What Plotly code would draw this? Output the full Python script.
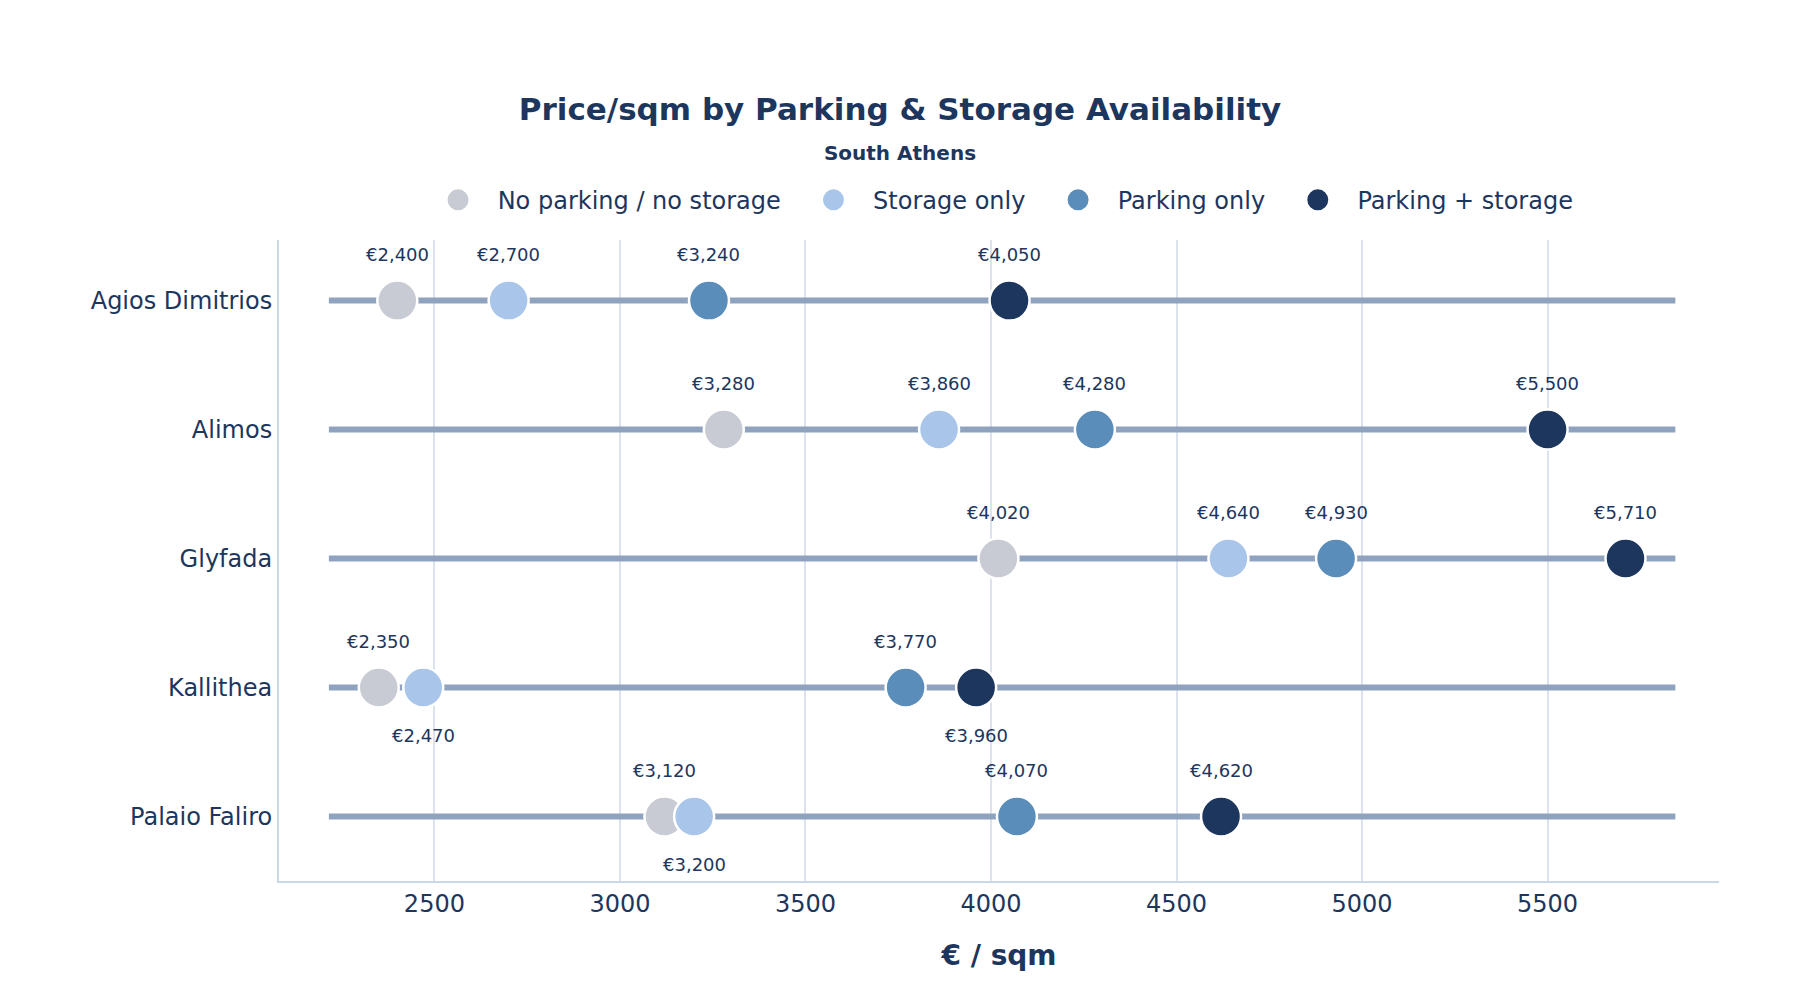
import plotly.graph_objects as go

# data
districts = ["Agios Dimitrios", "Alimos", "Glyfada", "Kallithea", "Palaio Faliro"]
groups = ["No parking / no storage", "Storage only", "Parking only", "Parking + storage"]
no_parking_no_storage = [2400, 3280, 4020, 2350, 3120]
storage_only = [2700, 3860, 4640, 2470, 3200]
parking_only = [3240, 4280, 4930, 3770, 4070]
parking_and_storage = [4050, 5500, 5710, 3960, 4620]

series = [no_parking_no_storage, storage_only, parking_only, parking_and_storage]
colors = ["#C8CBD3", "#A9C6EA", "#5A8DB9", "#1D365E"]
NAVY = "#1D365E"
FONT = "DejaVu Sans"
LEAD = "\u2002\u00a0"
TRAIL = "\u00a0" * 3 + "\u2009"

all_vals = [v for s in series for v in s]
vmin, vmax = min(all_vals), max(all_vals)
span = vmax - vmin
line_lo, line_hi = vmin - 0.04 * span, vmax + 0.04 * span
axis_lo, axis_hi = vmin - 0.08 * span, vmax + 0.075 * span

fig = go.Figure()

# one grey track per district
for d in districts:
    fig.add_trace(go.Scatter(
        x=[line_lo, line_hi],
        y=[d, d],
        mode="lines",
        line=dict(color="#8FA3BF", width=6),
        showlegend=False,
        hoverinfo="skip",
    ))

for name, vals, col in zip(groups, series, colors):
    fig.add_trace(go.Scatter(
        x=vals,
        y=districts,
        mode="markers",
        name=name,
        legendgroup=name,
        showlegend=False,
        marker=dict(size=40, color=col, line=dict(color="white", width=2.5)),
        hovertemplate="%{y}<br>" + name + ": €%{x:,}<extra></extra>",
    ))
    # legend entry only (bigger dot than the capped default)
    fig.add_trace(go.Scatter(
        x=[None],
        y=[None],
        mode="markers",
        name=LEAD + name + TRAIL,
        legendgroup=name,
        marker=dict(size=16, color=col, line=dict(color=col, width=5)),
    ))

# value labels: above, unless crowding the previous point on the row
for i, d in enumerate(districts):
    row = sorted(s[i] for s in series)
    prev, prev_up = None, False
    for v in row:
        up = True
        if prev is not None and v - prev < 250 and prev_up:
            up = False
        fig.add_annotation(
            x=v,
            y=d,
            text=f"€{v:,}",
            showarrow=False,
            yshift=46 if up else -48,
            font=dict(size=18, color=NAVY, family=FONT),
        )
        prev, prev_up = v, up

fig.update_layout(
    plot_bgcolor="white",
    paper_bgcolor="white",
    font=dict(family=FONT, color=NAVY, size=24),
    title=dict(
        text="<b>Price/sqm by Parking & Storage Availability</b><br>"
             "<span style='font-size:20px'><b>South Athens</b></span>",
        font=dict(size=31, color=NAVY, family=FONT),
        x=0.5,
        xanchor="center",
        y=0.8865,
        yanchor="top",
    ),
    legend=dict(
        orientation="h",
        x=0.516,
        xanchor="center",
        y=1.062,
        yanchor="middle",
        font=dict(size=24, color=NAVY, family=FONT),
    ),
    margin=dict(l=271, r=73, t=232, b=111),
)

fig.update_xaxes(
    range=[axis_lo, axis_hi],
    showgrid=True,
    gridcolor="#DCE3EE",
    gridwidth=1.5,
    showline=True,
    linecolor="#C9D7E8",
    linewidth=2,
    zeroline=False,
    ticks="",
    tickfont=dict(size=24),
    title=dict(text="<b>€ / sqm</b>", font=dict(size=28), standoff=29),
    automargin=False,
)
fig.update_yaxes(
    categoryorder="array",
    categoryarray=districts,
    range=[len(districts) - 0.5, -0.47],
    showgrid=False,
    showline=True,
    linecolor="#C9D7E8",
    linewidth=2,
    zeroline=False,
    ticks="",
    tickfont=dict(size=24),
    automargin=False,
)

fig.write_html("out.html")
